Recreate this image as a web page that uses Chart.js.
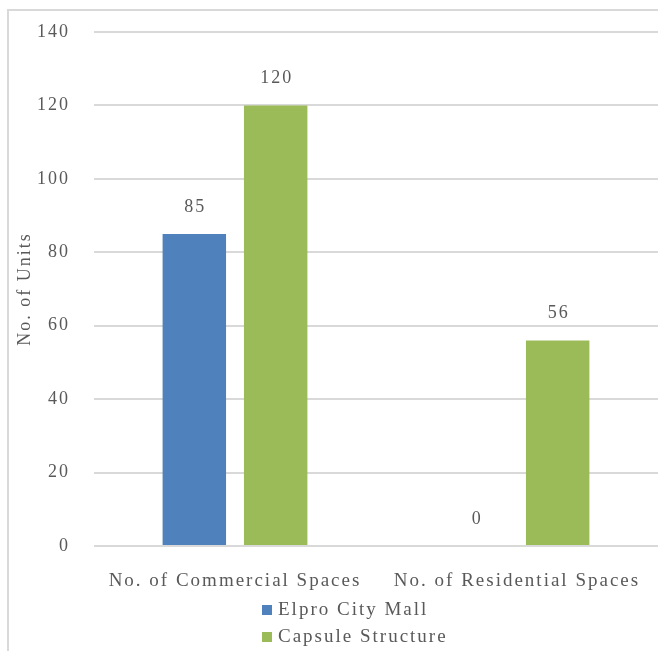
<!DOCTYPE html>
<html>
<head>
<meta charset="utf-8">
<script src="https://cdn.jsdelivr.net/npm/chart.js@4"></script>
<style>
  html, body { margin: 0; padding: 0; background: #fff; overflow: hidden; }
  #frame {
    position: absolute; left: 7px; top: 9px; width: 700px; height: 700px;
    border: 2px solid #d9d9d9; box-sizing: border-box;
  }
  #wrap { position: absolute; left: 0; top: 0; width: 658px; height: 651px; }
</style>
</head>
<body>
<div id="frame"></div>
<div id="wrap"><canvas id="unitsChart" width="658" height="651"></canvas></div>
<script>
// chart data
const categories = ['No. of Commercial Spaces', 'No. of Residential Spaces'];
const seriesNames = ['Elpro City Mall', 'Capsule Structure'];
const elproValues = [85, 0];
const capsuleValues = [120, 56];
const seriesColors = ['#4f81bd', '#9bbb59'];
const yTicks = [0, 20, 40, 60, 80, 100, 120, 140];

const textColor = '#595959';
const fontFamily = "'Liberation Serif', 'Times New Roman', serif";

Chart.defaults.font.family = fontFamily;
Chart.defaults.color = textColor;

/**
 * Wide letter spacing like the original rendering
 */
const spacing = {
  id: 'spacing',
  beforeUpdate(chart) { chart.ctx.letterSpacing = '2px'; },
  beforeDraw(chart) { chart.ctx.letterSpacing = '2px'; }
};

/**
 * Value labels above each bar
 */
const valueLabels = {
  id: 'valueLabels',
  afterDatasetsDraw(chart) {
    const ctx = chart.ctx;
    ctx.save();
    ctx.font = '18px ' + fontFamily;
    ctx.fillStyle = textColor;
    ctx.textAlign = 'center';
    ctx.textBaseline = 'middle';
    chart.data.datasets.forEach((ds, i) => {
      const meta = chart.getDatasetMeta(i);
      meta.data.forEach((bar, j) => {
        ctx.fillText(String(ds.data[j]), bar.x + 1, bar.y - 27);
      });
    });
    ctx.restore();
  }
};

/**
 * Stacked legend under the category labels
 */
const stackedLegend = {
  id: 'stackedLegend',
  afterDraw(chart) {
    const ctx = chart.ctx;
    const left = 262;
    const top = chart.chartArea.bottom + 64;
    const lineGap = 27;
    ctx.save();
    ctx.font = '19px ' + fontFamily;
    ctx.textBaseline = 'middle';
    ctx.textAlign = 'left';
    chart.data.datasets.forEach((ds, i) => {
      const y = top + i * lineGap;
      ctx.fillStyle = ds.backgroundColor;
      ctx.fillRect(left, y - 5, 10, 10);
      ctx.fillStyle = textColor;
      ctx.fillText(ds.label, left + 16, y);
    });
    ctx.restore();
  }
};

const el = document.getElementById('unitsChart');
new Chart(el, {
  type: 'bar',
  data: {
    labels: categories,
    datasets: [
      {
        label: seriesNames[0],
        data: elproValues,
        backgroundColor: seriesColors[0],
        categoryPercentage: 0.577,
        barPercentage: 0.78
      },
      {
        label: seriesNames[1],
        data: capsuleValues,
        backgroundColor: seriesColors[1],
        categoryPercentage: 0.577,
        barPercentage: 0.78
      }
    ]
  },
  options: {
    responsive: false,
    animation: false,
    layout: {
      padding: { top: 32, left: 8, right: 0, bottom: 0 }
    },
    scales: {
      x: {
        grid: { display: false, drawTicks: false },
        border: { display: false },
        ticks: {
          padding: 24,
          maxRotation: 0,
          font: { size: 19 },
          color: textColor
        },
        afterFit(scale) {
          scale.height = 105;
          scale.paddingLeft = 0;
          scale.paddingRight = 0;
        }
      },
      y: {
        min: 0,
        max: 140,
        afterBuildTicks(scale) {
          scale.ticks = yTicks.map(v => ({ value: v }));
        },
        grid: { color: '#d9d9d9', lineWidth: 2, drawTicks: false },
        border: { display: false },
        ticks: {
          padding: 24,
          font: { size: 18 },
          color: textColor
        },
        title: {
          display: true,
          text: 'No. of Units',
          font: { size: 18 },
          color: textColor,
          padding: { top: 6, bottom: 0 }
        },
        afterFit(scale) {
          scale.width = 86;
          scale.paddingTop = 0;
          scale.paddingBottom = 0;
        }
      }
    },
    plugins: {
      legend: { display: false },
      tooltip: { enabled: false }
    }
  },
  plugins: [spacing, valueLabels, stackedLegend]
});
</script>
</body>
</html>
